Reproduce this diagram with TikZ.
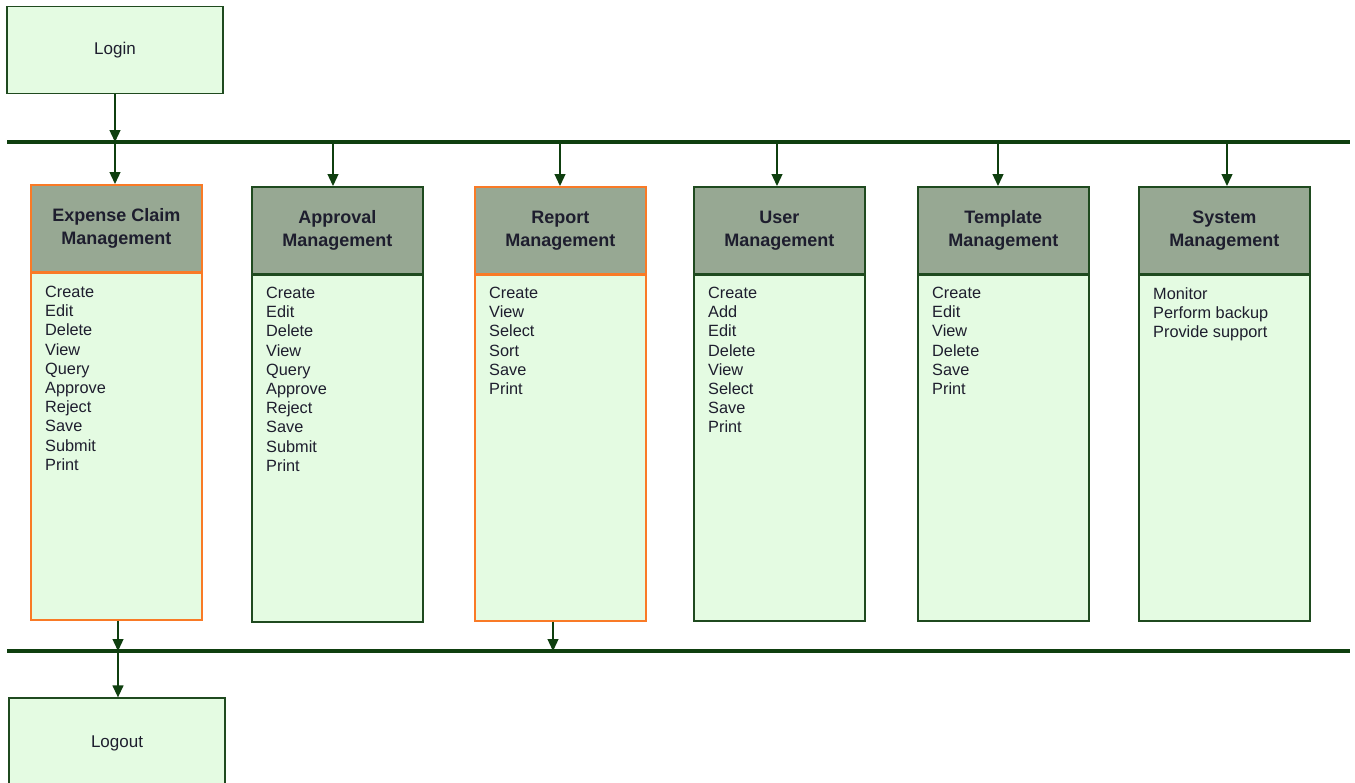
\documentclass[tikz,border=0pt]{standalone}
\usepackage{fontspec}
\setmainfont{Liberation Sans}
\usetikzlibrary{arrows.meta}
\definecolor{edge}{HTML}{1F4A1F}
\definecolor{busline}{HTML}{0F3F0F}
\definecolor{headfill}{HTML}{97A893}
\definecolor{bodyfill}{HTML}{E4FBE2}
\definecolor{hilite}{HTML}{F97A26}
\definecolor{ink}{HTML}{1E1E2E}
\tikzset{
  endbox/.style={draw=edge, fill=bodyfill, line width=1.3pt, minimum width=216pt,
    minimum height=87pt, inner sep=0pt, text=ink, font=\fontsize{17}{19}\selectfont},
  headbox/.style={draw=#1, fill=headfill, line width=1.6pt, minimum width=171pt,
    minimum height=87pt, inner sep=0pt, align=center, text=ink,
    font=\fontsize{18}{23}\selectfont\bfseries, anchor=north west},
  headbox/.default=edge,
  listbox/.style={draw=#1, fill=bodyfill, line width=1.6pt, minimum width=171pt,
    minimum height=348pt, inner sep=0pt, anchor=north west},
  listbox/.default=edge,
  items/.style={align=left, inner sep=0pt, anchor=north west, text=ink,
    font=\fontsize{16.3}{19.2}\selectfont},
  divider/.style={draw=#1, line width=3.2pt},
  divider/.default=edge,
  arr/.style={draw=busline, line width=1.3pt, -{Triangle[width=11pt,length=12pt]}},
  bus/.style={draw=busline, line width=4pt},
}
\begin{document}
\begin{tikzpicture}[x=1pt,y=-1pt]
\useasboundingbox (0,0) rectangle (1355,782);

% entry and exit
\node[endbox] (login) at (115,50) {Login};
\node[endbox, minimum height=90pt] (logout) at (117,743) {Logout};

% buses
\coordinate (topL) at (7,142);
\coordinate (topR) at (1350,142);
\coordinate (botL) at (7,651);
\coordinate (botR) at (1350,651);
\draw[bus] (topL) -- (topR);
\draw[bus] (botL) -- (botR);

% module columns: header + operation list
\node[listbox=hilite] (b1) at (30,271) {};
\node[headbox=hilite] (h1) at (30,184) {Expense Claim\\Management};
\node[items] (l1) at (45,286) {Create\\Edit\\Delete\\View\\Query\\Approve\\Reject\\Save\\Submit\\Print};

\node[listbox] (b2) at (251,273) {};
\node[headbox] (h2) at (251,186) {Approval\\Management};
\node[items] (l2) at (266,287) {Create\\Edit\\Delete\\View\\Query\\Approve\\Reject\\Save\\Submit\\Print};

\node[listbox=hilite] (b3) at (474,272) {};
\node[headbox=hilite] (h3) at (474,186) {Report\\Management};
\node[items] (l3) at (489,287) {Create\\View\\Select\\Sort\\Save\\Print};

\node[listbox] (b4) at (693,272) {};
\node[headbox] (h4) at (693,186) {User\\Management};
\node[items] (l4) at (708,287) {Create\\Add\\Edit\\Delete\\View\\Select\\Save\\Print};

\node[listbox] (b5) at (917,272) {};
\node[headbox] (h5) at (917,186) {Template\\Management};
\node[items] (l5) at (932,287) {Create\\Edit\\View\\Delete\\Save\\Print};

\node[listbox] (b6) at (1138,272) {};
\node[headbox] (h6) at (1138,186) {System\\Management};
\node[items] (l6) at (1153,287) {Monitor\\Perform backup\\Provide support};

% heavier rule under each header
\draw[divider=hilite] (h1.south west) -- (h1.south east);
\draw[divider] (h2.south west) -- (h2.south east);
\draw[divider=hilite] (h3.south west) -- (h3.south east);
\draw[divider] (h4.south west) -- (h4.south east);
\draw[divider] (h5.south west) -- (h5.south east);
\draw[divider] (h6.south west) -- (h6.south east);

% taps on the top bus
\coordinate (t1) at (115,142);
\coordinate (t2) at (333,142);
\coordinate (t3) at (560,142);
\coordinate (t4) at (777,142);
\coordinate (t5) at (998,142);
\coordinate (t6) at (1227,142);
\draw[arr] (login.south) -- (t1);
\foreach \i in {1,...,6} \draw[arr] (t\i) -- (t\i |- h\i.north);

% taps on the bottom bus
\coordinate (u1) at (118,651);
\coordinate (u3) at (553,651);
\draw[arr] (u1 |- b1.south) -- (u1);
\draw[arr] (u3 |- b3.south) -- (u3);
\draw[arr] (u1) -- (u1 |- logout.north);
\end{tikzpicture}
\end{document}
